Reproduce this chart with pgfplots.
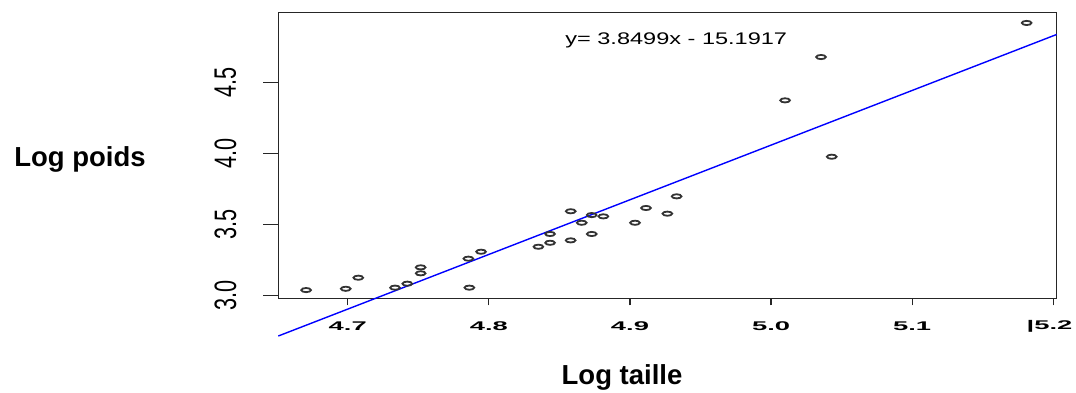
\documentclass[border=0pt]{standalone}
\usepackage{graphicx}
\usepackage{fontspec}
\setmainfont{Liberation Sans}
\usepackage{pgfplots}
\pgfplotsset{compat=1.18}

\newcommand{\xl}[1]{\scalebox{2.17}[1]{\fontsize{6.3pt}{7pt}\selectfont\bfseries #1}}
\newcommand{\yl}[1]{\rotatebox{90}{\scalebox{1.72}[2.46]{\fontsize{6.3pt}{7pt}\selectfont #1}}}

\begin{document}
\begin{tikzpicture}
\begin{axis}[
  scale only axis,
  width=389.2pt, height=143pt,
  xmin=4.6508, xmax=5.2024,
  ymin=2.979, ymax=4.993,
  clip=false,
  axis line style={black!85, line width=0.75pt},
  tick align=outside,
  tick pos=left,
  tick style={black!85, line width=0.65pt},
  x tick style={/pgfplots/major tick length=3.5pt},
  y tick style={/pgfplots/major tick length=7.5pt},
  xtick={4.7,4.8,4.9,5.0,5.1,5.2},
  xticklabels={\xl{4.7},\xl{4.8},\xl{4.9},\xl{5.0},\xl{5.1},\xl{\llap{|}5.2}},
  ytick={3.0,3.5,4.0,4.5},
  yticklabels={\yl{3.0},\yl{3.5},\yl{4.0},\yl{4.5}},
  xticklabel style={anchor=center, yshift=-9.6pt, inner sep=0pt},
  yticklabel style={anchor=center, xshift=-22.15pt, inner sep=0pt},
  minor tick num=0,
]
\addplot[only marks, mark=o, mark size=1.05pt, black!80,
  mark options={xscale=2.3, line width=0.9pt}] coordinates {
(4.6705,3.037) (4.6986,3.046) (4.7075,3.124) (4.7335,3.054) (4.7422,3.082)
(4.7517,3.197) (4.7517,3.155) (4.7862,3.054) (4.7855,3.258) (4.7945,3.307)
(4.8351,3.342) (4.8434,3.370) (4.8434,3.432) (4.8580,3.592) (4.8580,3.387)
(4.8658,3.511) (4.8729,3.565) (4.8811,3.556) (4.8729,3.432) (4.9036,3.511)
(4.9114,3.615) (4.9265,3.575) (4.9331,3.697) (5.0354,4.678) (5.0099,4.373)
(5.0430,3.976) (5.1811,4.918)
};
\addplot[blue, line width=0.7pt] coordinates {(4.6508,2.7135) (5.2024,4.8370)};
\coordinate (O) at (rel axis cs:0,0);
\end{axis}
\node[anchor=base, font=\fontsize{13.75pt}{16pt}\selectfont\bfseries, inner sep=0pt] at ([shift={(-99.15pt,65.8pt)}]O) {Log poids};
\node[anchor=base, font=\fontsize{13.75pt}{16pt}\selectfont\bfseries, inner sep=0pt] at ([shift={(171.85pt,-42.85pt)}]O) {Log taille};
\node[anchor=base west, inner sep=0pt] at ([shift={(143.35pt,127pt)}]O) {\scalebox{1.4}[1]{\fontsize{8.4pt}{10pt}\selectfont y= 3.8499x - 15.1917}};
\pgfresetboundingbox
\useasboundingbox ([shift={(-139.15pt,-46.85pt)}]O) rectangle ([shift={(398.85pt,149.15pt)}]O);
\end{tikzpicture}
\end{document}
